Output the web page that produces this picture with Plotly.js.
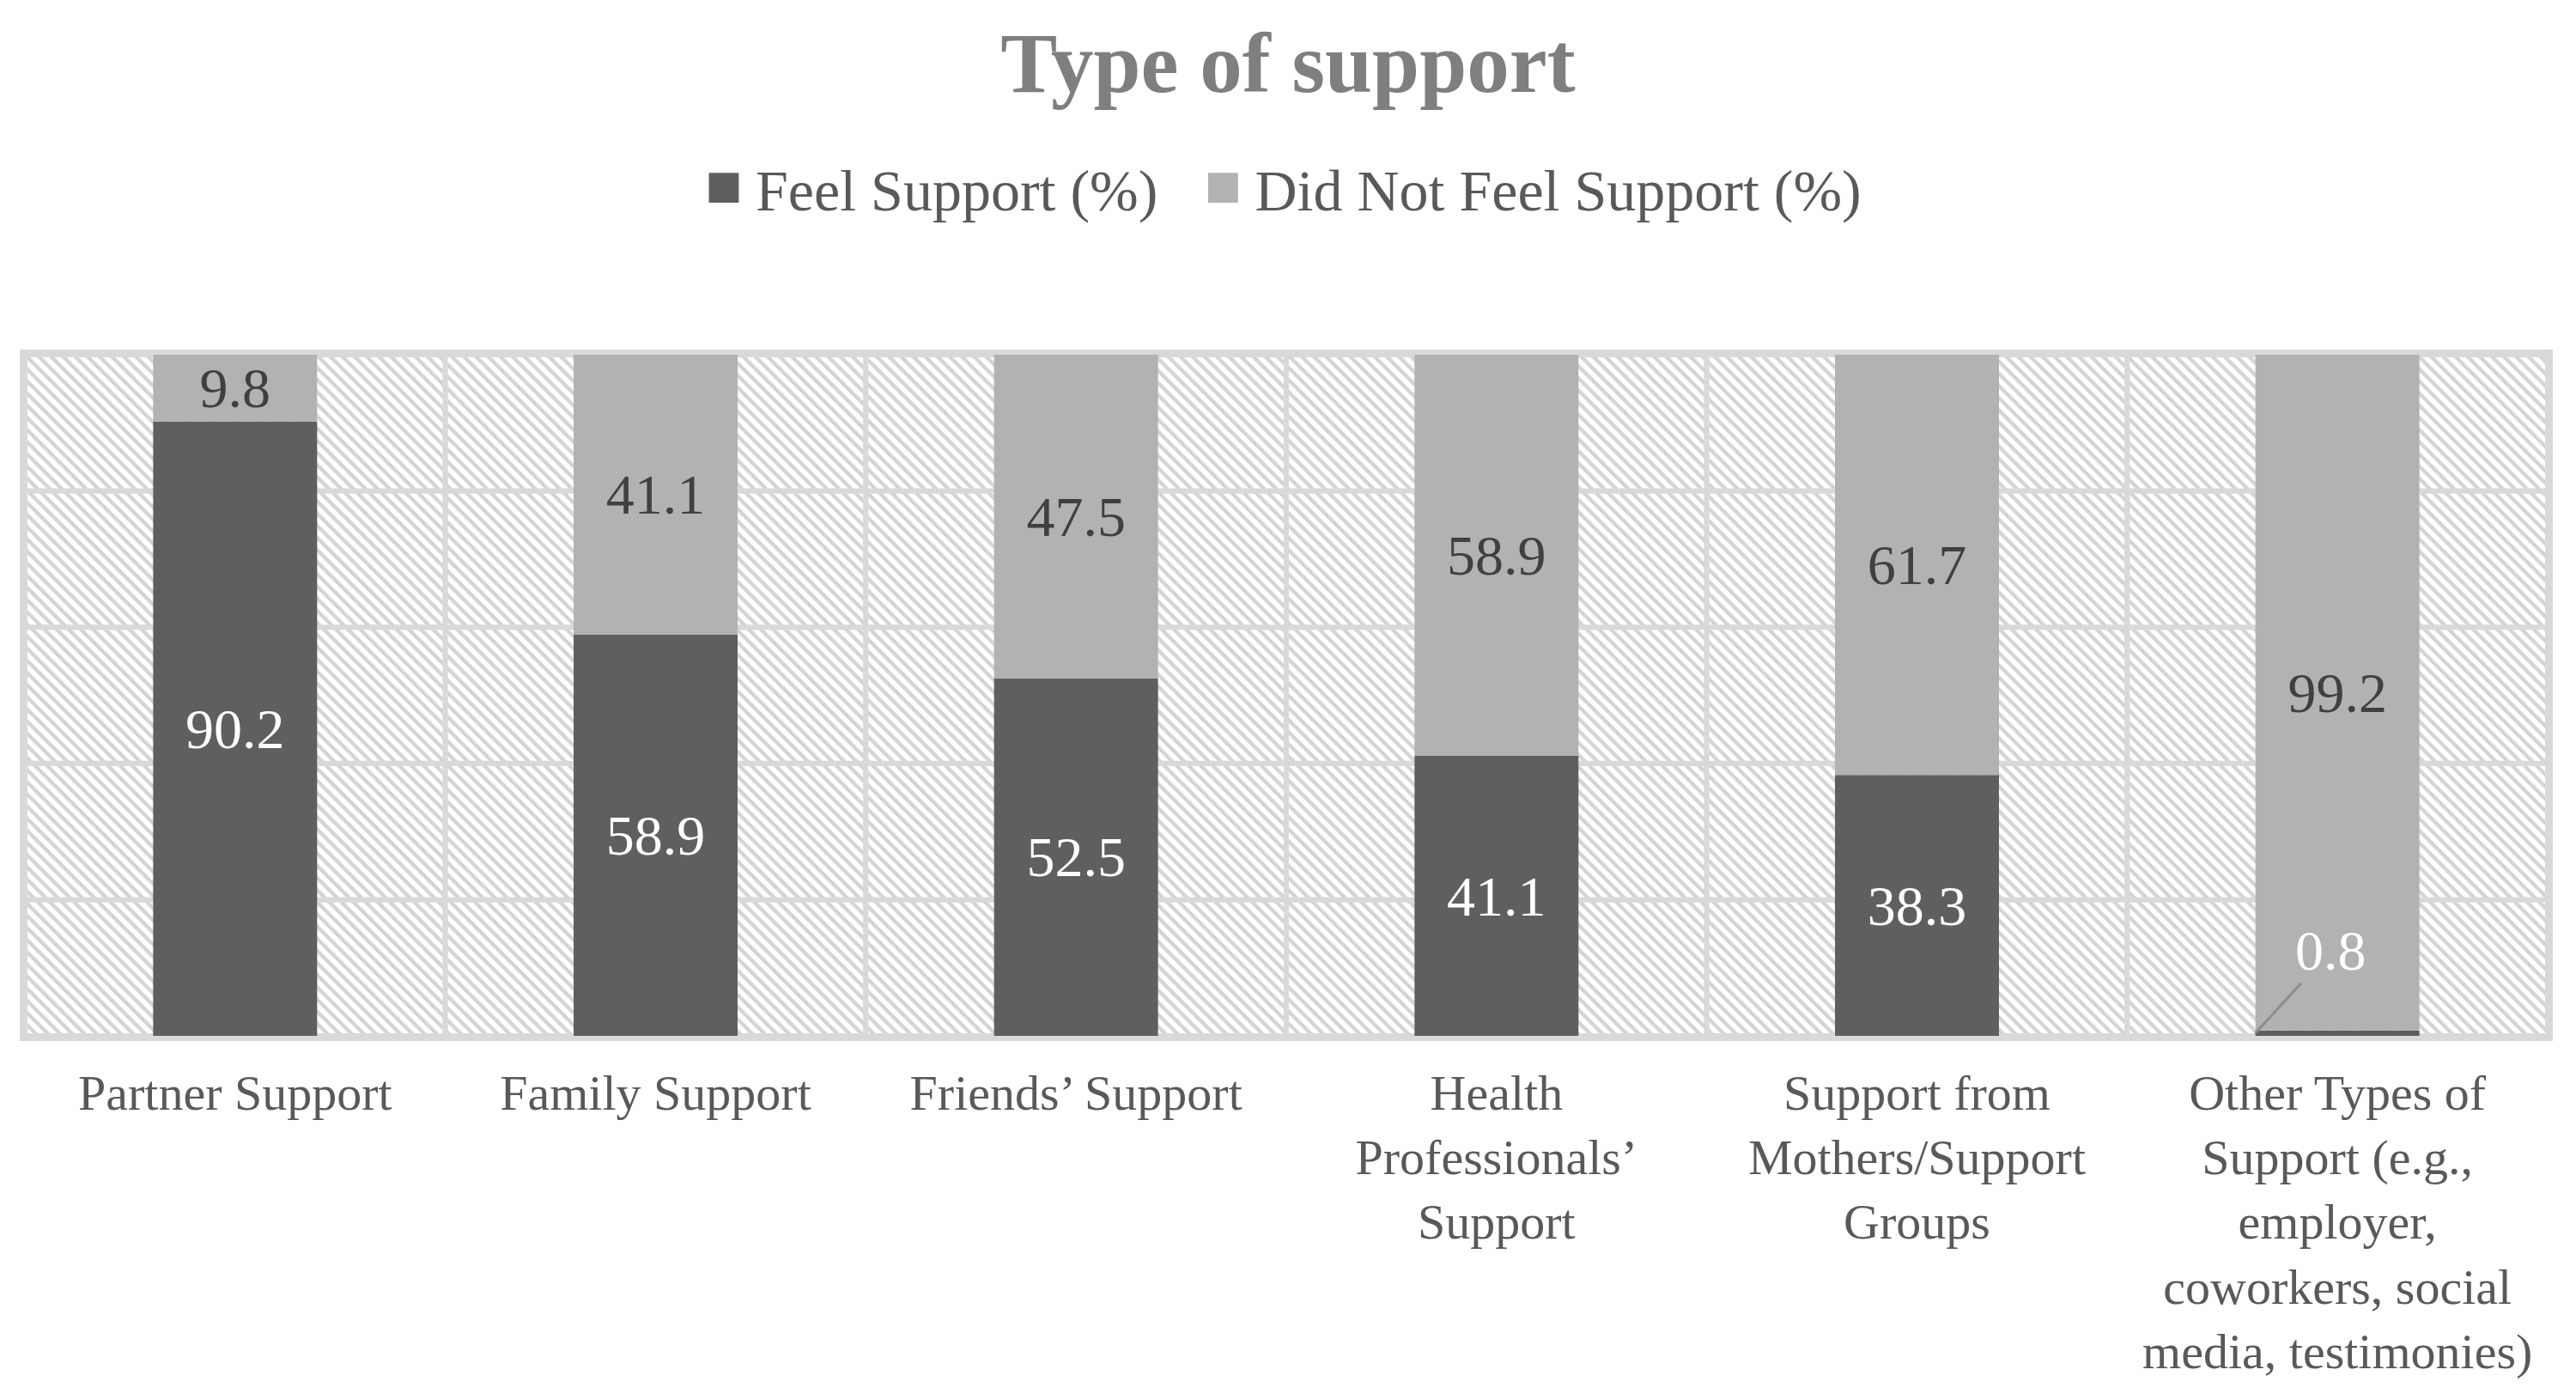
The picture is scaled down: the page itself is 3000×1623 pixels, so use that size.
<!DOCTYPE html>
<html>
<head>
<meta charset="utf-8">
<script src="https://cdn.plot.ly/plotly-3.0.1.min.js"></script>
<style>
  html, body { margin: 0; padding: 0; background: #fff; }
  #plot { width: 3000px; height: 1623px; }
</style>
</head>
<body>
<div id="plot"></div>
<script>
// categories and values
const categories = [
  'Partner Support',
  'Family Support',
  'Friends’ Support',
  'Health<br>Professionals’<br>Support',
  'Support from<br>Mothers/Support<br>Groups',
  'Other Types of<br>Support (e.g.,<br>employer,<br>coworkers, social<br>media, testimonies)'
]
const seriesNames = ['Feel Support (%)', 'Did Not Feel Support (%)']
const feelSupport = [90.2, 58.9, 52.5, 41.1, 38.3, 0.8]
const notFeelSupport = [9.8, 41.1, 47.5, 58.9, 61.7, 99.2]
const gridTicks = [0, 20, 40, 60, 80, 100]

const FONT = 'Liberation Serif, Times New Roman, serif'
const BAR_W = 0.39
const NB = '\u00a0'

function draw() {
  var data = []

  // hatched background cells, one band between each pair of grid ticks
  for (var k = 0; k < gridTicks.length - 1; k++) {
    data.push({
      type: 'bar',
      x: categories,
      y: categories.map(function () { return gridTicks[k + 1] - gridTicks[k] }),
      base: categories.map(function () { return gridTicks[k] }),
      width: 1,
      marker: {
        color: '#ffffff',
        pattern: { shape: '\\', fgcolor: '#d3d3d3', bgcolor: '#ffffff', size: 10, solidity: 0.42 },
        line: { color: '#d9d9d9', width: 6 }
      },
      showlegend: false,
      hoverinfo: 'skip'
    })
  }

  data.push({
    type: 'bar',
    name: NB + seriesNames[0] + NB + NB + NB,
    x: categories,
    y: feelSupport,
    width: BAR_W,
    marker: { color: '#5f5f5f', line: { width: 0 } },
    text: feelSupport.map(function (v) { return v < 5 ? '' : v.toFixed(1) }),
    textposition: 'inside',
    insidetextanchor: 'middle',
    constraintext: 'none',
    textfont: { family: FONT, size: 66, color: '#ffffff' },
    hoverinfo: 'skip'
  })

  data.push({
    type: 'bar',
    name: NB + seriesNames[1],
    x: categories,
    y: notFeelSupport,
    base: feelSupport,
    width: BAR_W,
    marker: { color: '#b2b2b2', line: { width: 0 } },
    text: notFeelSupport.map(function (v) { return v.toFixed(1) }),
    textposition: 'inside',
    insidetextanchor: 'middle',
    constraintext: 'none',
    textfont: { family: FONT, size: 66, color: '#404040' },
    hoverinfo: 'skip'
  })

  // small values get a leader line instead of an inside label
  var annotations = []
  feelSupport.forEach(function (v, i) {
    if (v < 5) {
      annotations.push({
        x: i - BAR_W / 2, y: v / 2, xref: 'x', yref: 'y',
        text: v.toFixed(1),
        showarrow: true, arrowhead: 0, arrowwidth: 3, arrowcolor: '#8c8c8c',
        ax: 88, ay: -96,
        font: { family: FONT, size: 66, color: '#ffffff' }
      })
    }
  })

  var layout = {
    width: 3000,
    height: 1623,
    paper_bgcolor: '#ffffff',
    plot_bgcolor: '#ffffff',
    barmode: 'overlay',
    margin: { l: 29, r: 33, t: 413, b: 417 },
    font: { family: FONT, color: '#595959' },
    title: {
      text: '<b>Type of support</b>',
      font: { family: FONT, size: 99, color: '#7f7f7f' },
      x: 0.5, xanchor: 'center',
      y: 1 - 72 / 1623, yanchor: 'middle', yref: 'container'
    },
    legend: {
      orientation: 'h',
      x: 0.5, xanchor: 'center',
      y: 1 - 219 / 1623, yanchor: 'middle', yref: 'container',
      font: { family: FONT, size: 68, color: '#595959' },
      itemclick: false
    },
    xaxis: {
      type: 'category',
      range: [-0.5, categories.length - 0.5],
      showgrid: false,
      zeroline: false,
      showline: true, mirror: true, linecolor: '#d9d9d9', linewidth: 6,
      ticks: '',
      tickfont: { family: FONT, size: 58, color: '#595959' },
      ticklabelstandoff: 10
    },
    yaxis: {
      range: [0, 100],
      showgrid: false,
      zeroline: false,
      showticklabels: false,
      showline: true, mirror: true, linecolor: '#d9d9d9', linewidth: 6,
      ticks: ''
    },
    annotations: annotations,
    showlegend: true
  }

  Plotly.newPlot('plot', data, layout, { staticPlot: true }).then(function (gd) {
    // the legend swatches are fixed at 12px, enlarge them to the figure's size
    gd.querySelectorAll('.legend .legendpoints path').forEach(function (p) {
      var t = p.getAttribute('transform') || ''
      p.setAttribute('transform', t + ' scale(2.9)')
    })
  })
}

draw()
</script>
</body>
</html>
